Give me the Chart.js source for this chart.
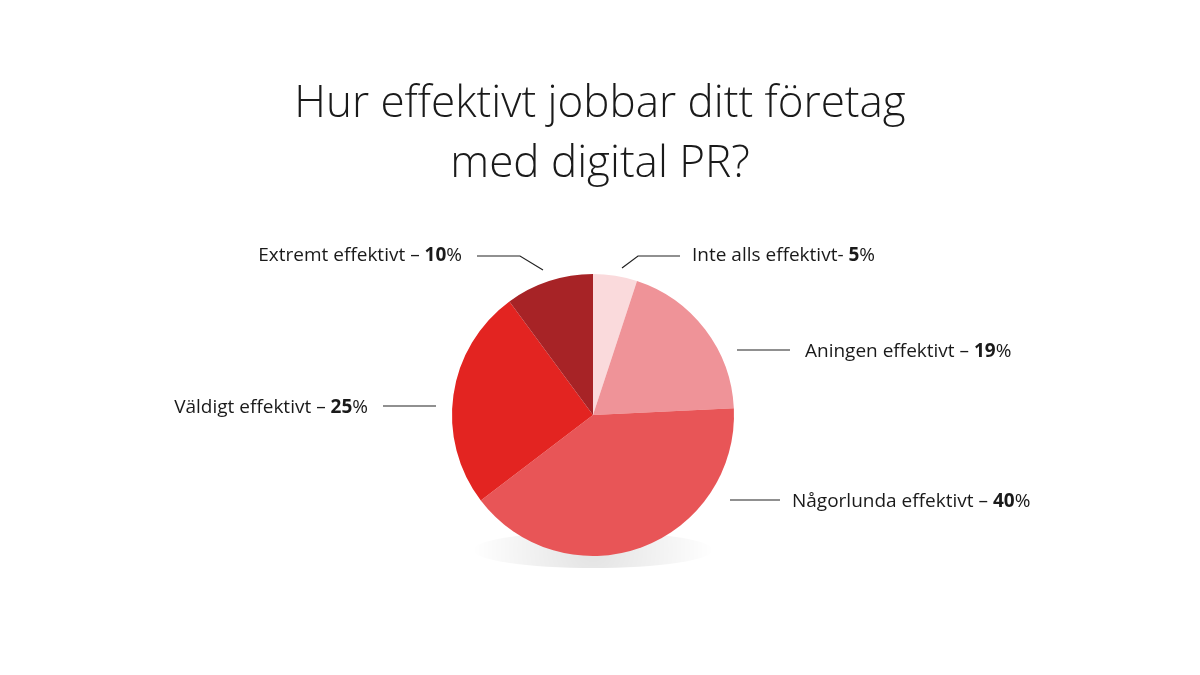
<!DOCTYPE html>
<html>
<head>
<meta charset="utf-8">
<script src="https://cdn.jsdelivr.net/npm/chart.js@4.4.0/dist/chart.umd.min.js"></script>
<style>
  html, body { margin: 0; padding: 0; background: #fff; }
  #wrap { width: 1200px; height: 675px; position: relative; }
</style>
</head>
<body>
<div id="wrap"><canvas id="pie"></canvas></div>
<script>
// --- DATA ---
const categories = ['Inte alls effektivt', 'Aningen effektivt', 'Någorlunda effektivt', 'Väldigt effektivt', 'Extremt effektivt'];
const values = [5, 19, 40, 25, 10];
const labelSeparators = ['- ', ' – ', ' – ', ' – ', ' – '];
const colors = ['#fadadc', '#ef9398', '#e85557', '#e32421', '#a72326'];

// leader lines + label anchors, one per slice (layout only)
const leaders = [
    { pts: [[622, 268], [638, 256], [680, 256]], x: 692, y: 256, align: 'left' },
    { pts: [[737, 350], [790, 350]], x: 805, y: 352, align: 'left' },
    { pts: [[730, 500], [780, 500]], x: 792, y: 502, align: 'left' },
    { pts: [[436, 406], [383, 406]], x: 368, y: 408, align: 'right' },
    { pts: [[543, 270], [520, 256], [477, 256]], x: 462, y: 256, align: 'right' }
];

const labelPlugin = {
    id: 'labels',
    afterDraw(chart) {
        const ctx = chart.ctx;
        ctx.save();
        // title
        ctx.fillStyle = '#1a1a1a';
        ctx.font = '300 44px "Open Sans"';
        ctx.textAlign = 'center';
        ctx.textBaseline = 'alphabetic';
        ctx.fillText('Hur effektivt jobbar ditt företag', 600, 117);
        ctx.fillText('med digital PR?', 600, 177);

        // leaders and labels
        ctx.strokeStyle = '#222';
        ctx.lineWidth = 1.2;
        ctx.textBaseline = 'middle';
        categories.forEach((name, i) => {
            const l = leaders[i];
            ctx.beginPath();
            l.pts.forEach((p, j) => j ? ctx.lineTo(p[0], p[1]) : ctx.moveTo(p[0], p[1]));
            ctx.stroke();

            const normal = name + labelSeparators[i];
            const bold = String(values[i]);
            const pct = '%';
            ctx.font = '400 19px "Open Sans"';
            const wN = ctx.measureText(normal).width;
            const wP = ctx.measureText(pct).width;
            ctx.font = '700 19px "Open Sans"';
            const wB = ctx.measureText(bold).width;
            let x = l.align === 'left' ? l.x : l.x - (wN + wB + wP);
            ctx.textAlign = 'left';
            ctx.fillStyle = '#1a1a1a';
            ctx.font = '400 19px "Open Sans"';
            ctx.fillText(normal, x, l.y);
            ctx.font = '700 19px "Open Sans"';
            ctx.fillText(bold, x + wN, l.y);
            ctx.font = '400 19px "Open Sans"';
            ctx.fillText(pct, x + wN + wB, l.y);
        });
        ctx.restore();
    },
    beforeDatasetsDraw(chart) {
        // soft shadow under the pie
        const arc = chart.getDatasetMeta(0).data[0];
        if (!arc) return;
        const ctx = chart.ctx;
        ctx.save();
        const g = ctx.createRadialGradient(arc.x, arc.y + 135, 10, arc.x, arc.y + 135, 120);
        g.addColorStop(0, 'rgba(0,0,0,0.10)');
        g.addColorStop(1, 'rgba(0,0,0,0)');
        ctx.fillStyle = g;
        ctx.beginPath();
        ctx.ellipse(arc.x, arc.y + 135, 120, 18, 0, 0, Math.PI * 2);
        ctx.fill();
        ctx.restore();
    }
};

new Chart(document.getElementById('pie'), {
    type: 'pie',
    data: {
        labels: categories,
        datasets: [{
            data: values,
            backgroundColor: colors,
            borderWidth: 0,
            radius: 141
        }]
    },
    options: {
        responsive: true,
        maintainAspectRatio: false,
        animation: false,
        layout: { padding: { top: 200, bottom: 45, left: 0, right: 14 } },
        plugins: {
            legend: { display: false },
            tooltip: { enabled: false }
        }
    },
    plugins: [labelPlugin]
});
</script>
</body>
</html>
